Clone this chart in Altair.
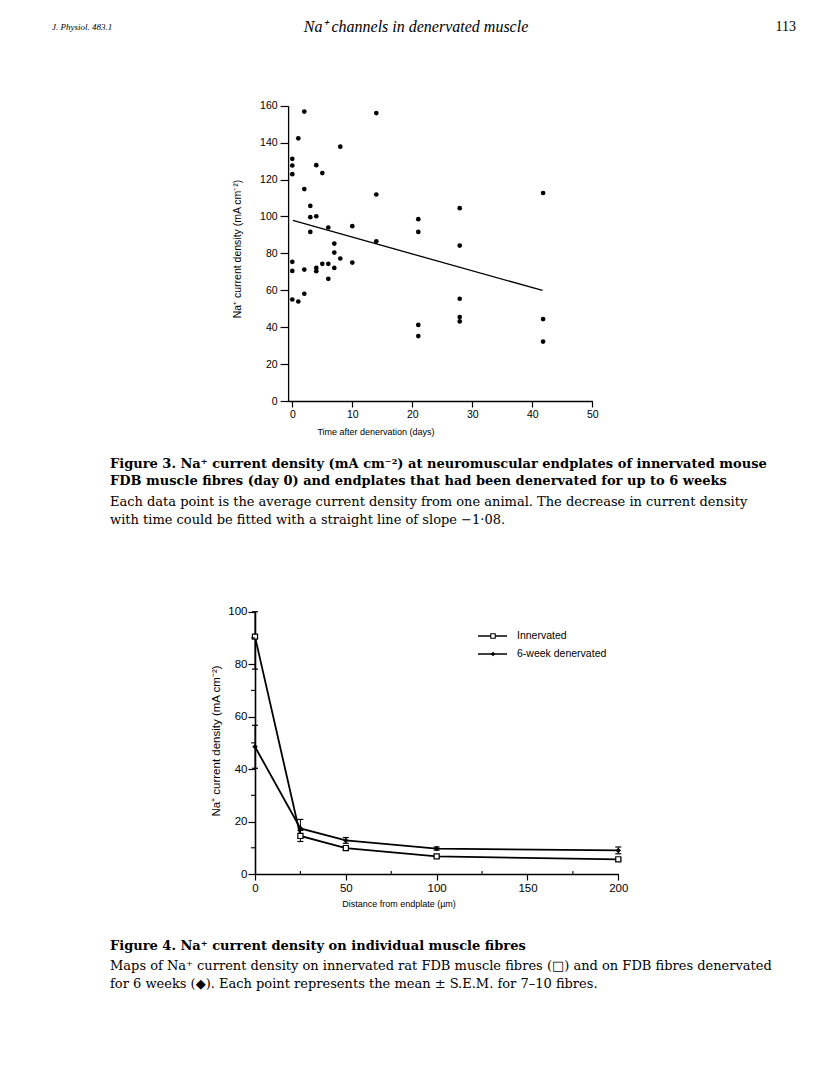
import altair as alt
import pandas as pd

M = 8            # page margin
W, H = 800, 1072 # whole drawing area
SANS = "Liberation Sans"
SERIF = "DejaVu Serif"
TIMES = "Liberation Serif"

# ---------------- Figure 3 data ----------------
days3 = [0, 0, 0, 0, 0, 0,
         1, 1,
         2, 2, 2, 2,
         3, 3, 3,
         4, 4, 4, 4,
         5, 5,
         6, 6, 6,
         7, 7, 7,
         8, 8,
         10, 10,
         14, 14, 14,
         21, 21, 21, 21,
         27.9, 27.9, 27.9, 27.9, 27.9,
         41.8, 41.8, 41.8]
vals3 = [131.2, 127.6, 122.9, 75.4, 70.5, 55.0,
         142.3, 53.9,
         156.8, 114.8, 71.2, 58.1,
         105.7, 99.6, 91.6,
         127.8, 100.1, 72.1, 70.3,
         123.5, 74.3,
         94.0, 74.3, 66.2,
         85.3, 80.4, 72.1,
         137.8, 77.2,
         94.7, 75.0,
         156.0, 111.9, 86.5,
         98.5, 91.6, 41.2, 35.2,
         104.5, 84.2, 55.4, 45.5, 43.1,
         112.7, 44.4, 32.2]
fit_days = [0.1, 41.7]
fit_vals = [97.8, 59.9]
x3_ticks = [0, 10, 20, 30, 40, 50]
y3_ticks = [0, 20, 40, 60, 80, 100, 120, 140, 160]

# ---------------- Figure 4 data ----------------
dist = [0, 25, 50, 100, 200]
innerv = [90.5, 14.5, 9.9, 6.7, 5.6]
innerv_lo = [78.1, 12.4, 9.2, 6.3, 5.2]
innerv_hi = [100.0, 16.6, 10.6, 7.1, 6.0]
denerv = [48.5, 17.4, 12.8, 9.7, 9.0]
denerv_lo = [40.3, 14.0, 11.7, 9.1, 7.7]
denerv_hi = [56.7, 20.8, 13.9, 10.3, 10.3]
x4_ticks = [0, 50, 100, 150, 200]
x4_minor = [25, 75, 125, 175]
y4_ticks = [0, 20, 40, 60, 80, 100]
y4_minor = [10, 30, 50, 70, 90]

df3 = pd.DataFrame({"x": days3, "y": vals3})
dfit = pd.DataFrame({"x": fit_days, "y": fit_vals})
dfi = pd.DataFrame({"x": dist, "y": innerv, "lo": innerv_lo, "hi": innerv_hi})
dfd = pd.DataFrame({"x": dist, "y": denerv, "lo": denerv_lo, "hi": denerv_hi})


def P(v):
    return v - M


def axis_common(**kw):
    base = dict(title=None, grid=False, domainColor="black", domainWidth=1.3,
                tickColor="black", tickWidth=1.2, labelFont=SANS, labelFontSize=10,
                labelColor="black", labelFlush=False, labelOverlap=False)
    base.update(kw)
    return alt.Axis(**base)


# ---------- Figure 3 ----------
sx3 = alt.Scale(domain=[-0.7, 50], range=[P(288.1), P(592.3)], nice=False, zero=False)
sy3 = alt.Scale(domain=[0, 160], range=[P(401), P(105.7)], nice=False, zero=False)
ax3x = axis_common(orient="bottom", offset=P(401) - H, values=x3_ticks, tickSize=6,
                   labelPadding=2, labelFontSize=10.5)
ax3y = axis_common(orient="left", offset=-P(288.1), values=y3_ticks, tickSize=8,
                   labelPadding=3, labelFontSize=10.5)

pts3 = alt.Chart(df3).mark_circle(size=22, color="black", opacity=1).encode(
    x=alt.X("x:Q", scale=sx3, axis=ax3x),
    y=alt.Y("y:Q", scale=sy3, axis=ax3y),
)
line3 = alt.Chart(dfit).mark_line(color="black", strokeWidth=1.3).encode(
    x=alt.X("x:Q", scale=sx3, axis=ax3x),
    y=alt.Y("y:Q", scale=sy3, axis=ax3y),
)
fig3 = alt.layer(pts3, line3)

# ---------- Figure 4 ----------
sx4 = alt.Scale(domain=[0, 200], range=[P(255), P(618.3)], nice=False, zero=False)
sy4 = alt.Scale(domain=[0, 100], range=[P(874), P(611.7)], nice=False, zero=False)
ax4x = axis_common(orient="bottom", offset=P(874) - H, values=x4_ticks, tickSize=6,
                   labelPadding=2, labelFontSize=11.5, domainWidth=1.6)
ax4y = axis_common(orient="left", offset=-P(255), values=y4_ticks, tickSize=7,
                   labelPadding=1, labelFontSize=11.5, domainWidth=1.6)


def X4(f="x"):
    return alt.X(f + ":Q", scale=sx4, axis=ax4x)


def Y4(f="y"):
    return alt.Y(f + ":Q", scale=sy4, axis=ax4y)


line_i = alt.Chart(dfi).mark_line(color="black", strokeWidth=1.8).encode(x=X4(), y=Y4())
line_d = alt.Chart(dfd).mark_line(color="black", strokeWidth=1.8).encode(x=X4(), y=Y4())


def errbars(df):
    r = alt.Chart(df).mark_rule(color="black", strokeWidth=1).encode(x=X4(), y=Y4("lo"), y2="hi:Q")
    t1 = alt.Chart(df).mark_tick(orient="horizontal", size=6, thickness=1.2, color="black",
                                 opacity=1).encode(x=X4(), y=Y4("lo"))
    t2 = alt.Chart(df).mark_tick(orient="horizontal", size=6, thickness=1.2, color="black",
                                 opacity=1).encode(x=X4(), y=Y4("hi"))
    return [r, t1, t2]


pts_i = alt.Chart(dfi).mark_point(shape="square", filled=True, fill="white", stroke="black",
                                  strokeWidth=1.2, size=26, opacity=1).encode(x=X4(), y=Y4())
pts_d = alt.Chart(dfd).mark_point(shape="diamond", filled=True, color="black", size=30,
                                  opacity=1).encode(x=X4(), y=Y4())

dminy = pd.DataFrame({"m": y4_minor})
minor_y = alt.Chart(dminy).mark_rule(color="black", strokeWidth=1.1).encode(
    y=Y4("m"), x=alt.value(P(251)), x2=alt.value(P(255)))
dminx = pd.DataFrame({"m": x4_minor})
minor_x = alt.Chart(dminx).mark_rule(color="black", strokeWidth=1.1).encode(
    x=X4("m"), y=alt.value(P(871)), y2=alt.value(P(874)))

fig4 = alt.layer(line_i, line_d, *errbars(dfi), *errbars(dfd), pts_i, pts_d, minor_y, minor_x)


# ---------- text ----------
def txt(s, x, y, size, font=SERIF, weight="normal", style="normal", align="left", angle=0):
    return alt.Chart(pd.DataFrame({"t": [s]})).mark_text(
        align=align, baseline="middle", font=font, fontSize=size, fontWeight=weight,
        fontStyle=style, angle=angle, color="black",
    ).encode(x=alt.value(P(x)), y=alt.value(P(y)), text="t:N")


CAP = 13
texts = [
    txt("J. Physiol. 483.1", 52, 27, 9, font=TIMES, style="italic"),
    txt("Na\u207a channels in denervated muscle", 416, 27, 16, font=TIMES, style="italic", align="center"),
    txt("113", 796, 27, 14, font=TIMES, align="right"),
    # figure 3 axis titles
    txt("Na\u207a current density (mA cm\u207b\u00b2)", 238, 249, 10.5, font=SANS, align="center", angle=270),
    txt("Time after denervation (days)", 376, 432, 9, font=SANS, align="center"),
    # figure 3 caption
    txt("Figure 3. Na\u207a current density (mA cm\u207b\u00b2) at neuromuscular endplates of innervated mouse",
        110, 464, CAP, weight="bold"),
    txt("FDB muscle fibres (day 0) and endplates that had been denervated for up to 6 weeks",
        110, 481, CAP, weight="bold"),
    txt("Each data point is the average current density from one animal. The decrease in current density",
        110, 502, CAP),
    txt("with time could be fitted with a straight line of slope \u22121\u00b708.", 110, 520, CAP),
    # figure 4 axis titles
    txt("Na\u207a current density (mA cm\u207b\u00b2)", 217, 741, 11.5, font=SANS, align="center", angle=270),
    txt("Distance from endplate (\u00b5m)", 399, 904, 9, font=SANS, align="center"),
    # figure 4 legend text
    txt("Innervated", 517, 636, 10.5, font=SANS),
    txt("6-week denervated", 517, 654, 10.5, font=SANS),
    # figure 4 caption
    txt("Figure 4. Na\u207a current density on individual muscle fibres", 110, 946, CAP, weight="bold"),
    txt("Maps of Na\u207a current density on innervated rat FDB muscle fibres (\u25a1) and on FDB fibres denervated",
        110, 966, CAP),
    txt("for 6 weeks (\u25c6). Each point represents the mean \u00b1 S.E.M. for 7\u201310 fibres.", 110, 984, CAP),
]

# legend symbols for figure 4
one = pd.DataFrame({"k": [0]})
leg = []
for yy, kind in [(636, "sq"), (654, "di")]:
    leg.append(alt.Chart(one).mark_rule(color="black", strokeWidth=1.5).encode(
        x=alt.value(P(478)), x2=alt.value(P(507)), y=alt.value(P(yy))))
    if kind == "sq":
        leg.append(alt.Chart(one).mark_point(shape="square", filled=True, fill="white", stroke="black",
                                             strokeWidth=1.1, size=20, opacity=1).encode(
            x=alt.value(P(493)), y=alt.value(P(yy))))
    else:
        leg.append(alt.Chart(one).mark_point(shape="diamond", filled=True, color="black", size=22,
                                             opacity=1).encode(
            x=alt.value(P(493)), y=alt.value(P(yy))))

chart = alt.layer(fig3, fig4, *texts, *leg).resolve_scale(
    x="independent", y="independent"
).properties(
    width=W, height=H, padding=0, autosize=alt.AutoSizeParams(type="none"),
    background="white",
).configure_view(stroke=None)

chart.save("out.html", embed_options={"renderer": "svg", "actions": False})
